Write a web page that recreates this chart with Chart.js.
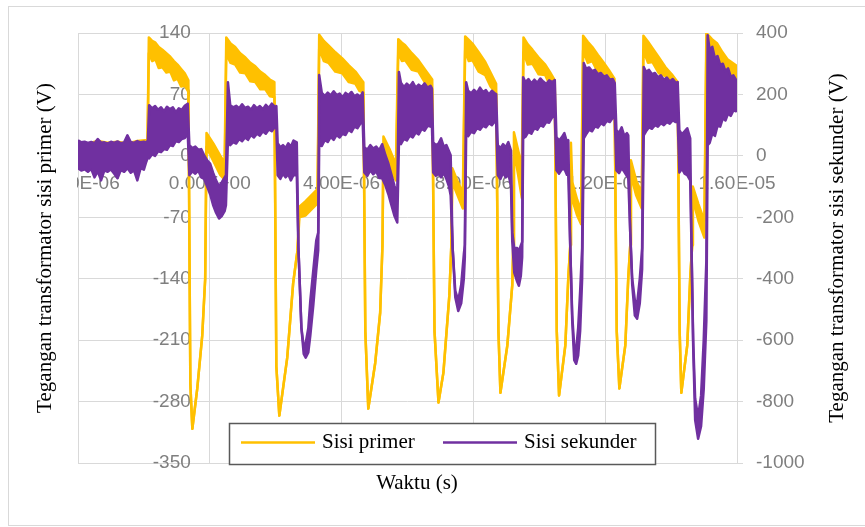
<!DOCTYPE html>
<html>
<head>
<meta charset="utf-8">
<script src="https://cdn.jsdelivr.net/npm/chart.js@4.4.1/dist/chart.umd.min.js"></script>
<style>
  html, body { margin: 0; padding: 0; background: #fff; }
  #wrap { position: relative; width: 865px; height: 527px; }
</style>
</head>
<body>
<div id="wrap"><canvas id="trafoChart" width="865" height="527"></canvas></div>
<script>
// Data
///////////////////////////////////////////////////////////////////////////////////////

// Sisi primer: waktu dalam mikrodetik, batas atas / bawah pita derau (V)
const primerTimeUs = [
    -4.00, -3.70, -3.40, -3.10, -2.80, -2.50, -2.20, -1.89,
    -1.85, -1.75, -1.65, -1.55, -1.44, -1.32, -1.20, -1.09, -0.98, -0.87, -0.76, -0.65,
    -0.59, -0.53, -0.38, -0.23, -0.14, -0.10, 0.11, 0.32, 0.45,
    0.50, 0.63, 0.77, 0.92, 1.08, 1.23, 1.38, 1.53, 1.68, 1.82, 1.96,
    2.02, 2.11, 2.35, 2.53, 2.66, 2.72, 2.90, 3.11, 3.27,
    3.32, 3.46, 3.60, 3.81, 4.02, 4.22, 4.42, 4.54, 4.66,
    4.72, 4.81, 5.02, 5.17, 5.24, 5.27, 5.45, 5.65,
    5.72, 5.83, 5.93, 6.13, 6.33, 6.54, 6.75,
    6.82, 6.94, 7.09, 7.27, 7.33, 7.36, 7.51, 7.68,
    7.75, 7.86, 7.97, 8.16, 8.36, 8.52, 8.69,
    8.76, 8.82, 9.03, 9.18, 9.21, 9.23, 9.36, 9.47,
    9.52, 9.65, 9.79, 9.98, 10.18, 10.33, 10.47,
    10.53, 10.60, 10.79, 10.88, 10.94, 10.96, 11.00, 11.15, 11.27,
    11.33, 11.47, 11.61, 11.78, 11.94, 12.11, 12.28,
    12.35, 12.43, 12.61, 12.70, 12.76, 12.78, 12.94, 13.11,
    13.16, 13.30, 13.43, 13.63, 13.83, 14.02, 14.20,
    14.26, 14.31, 14.49, 14.58, 14.64, 14.66, 14.83, 15.01,
    15.07, 15.24, 15.40, 15.56, 15.71, 15.86, 16.01
];
const primerHigh = [
    16, 14, 17, 15, 16, 14, 17, 18,
    135, 131, 129, 124, 121, 117, 113, 108, 104, 99, 94, 86,
    -260, -311, -265, -205, -140, 26, 14, 0, -8,
    135, 128, 124, 117, 112, 106, 102, 96, 92, 87, 84,
    -240, -296, -230, -145, -108, -58, -52, -44, -38,
    138, 131, 126, 118, 111, 103, 96, 90, 84,
    -200, -288, -236, -179, -102, 22, 8, -10,
    133, 129, 126, 117, 109, 98, 87,
    -200, -281, -247, -159, -102, -14, -28, -42,
    136, 132, 128, 118, 107, 95, 82,
    -200, -270, -216, -147, -102, 27, 6, -12,
    135, 127, 121, 112, 104, 95, 86,
    -200, -273, -216, -139, -102, 15, -30, -50, -62,
    137, 130, 124, 115, 107, 98, 88,
    -200, -265, -216, -139, -102, -5, -28, -42,
    137, 130, 123, 112, 101, 93, 84,
    -200, -270, -216, -139, -102, -35, -55, -74,
    140, 133, 128, 118, 110, 106, 102
];
const primerLow = [
    8, 7, 9, 8, 9, 7, 10, 11,
    117, 108, 110, 100, 101, 95, 96, 86, 88, 79, 80, 73,
    -260, -311, -265, -205, -140, 10, -6, -22, -27,
    116, 106, 104, 95, 94, 85, 84, 76, 76, 68, 67,
    -240, -296, -230, -145, -108, -70, -68, -60, -54,
    122, 108, 106, 96, 94, 84, 82, 74, 72,
    -200, -288, -236, -179, -102, 4, -14, -28,
    118, 108, 109, 98, 96, 83, 76,
    -200, -281, -247, -159, -102, -30, -44, -60,
    120, 108, 109, 96, 92, 79, 71,
    -200, -270, -216, -147, -102, 6, -22, -48,
    118, 104, 105, 93, 92, 80, 74,
    -200, -273, -216, -139, -102, -10, -50, -68, -78,
    120, 106, 108, 95, 96, 84, 76,
    -200, -265, -216, -139, -102, -22, -45, -60,
    120, 106, 107, 94, 91, 80, 73,
    -200, -270, -216, -139, -102, -50, -74, -93,
    122, 110, 108, 97, 97, 88, 86
];

// Sisi sekunder: waktu dalam mikrodetik, batas atas / bawah pita derau (V)
const sekunderTimeUs = [
    -4.00, -3.90, -3.80, -3.70, -3.60, -3.50, -3.40, -3.30, -3.20, -3.10, -3.00, -2.90,
    -2.80, -2.70, -2.60, -2.50, -2.40, -2.30, -2.20, -2.10, -2.00, -1.93, -1.88,
    -1.84, -1.75, -1.66, -1.57, -1.48, -1.39, -1.30, -1.21, -1.12, -1.03, -0.94, -0.85, -0.76, -0.67,
    -0.62, -0.53, -0.44, -0.35, -0.26, -0.17, -0.08, 0.01, 0.10, 0.19, 0.28, 0.37, 0.45, 0.49,
    0.55, 0.62, 0.71, 0.80, 0.89, 0.98, 1.07, 1.16, 1.25, 1.34, 1.43, 1.52, 1.61, 1.70, 1.79, 1.88, 1.97, 2.02,
    2.06, 2.14, 2.22, 2.30, 2.38, 2.46, 2.54, 2.64,
    2.69, 2.78, 2.85, 2.91, 2.99, 3.05, 3.14, 3.23, 3.29,
    3.32, 3.40, 3.49, 3.58, 3.67, 3.76, 3.85, 3.94, 4.03, 4.12, 4.21, 4.30, 4.39, 4.48, 4.57, 4.64,
    4.69, 4.78, 4.87, 4.96, 5.05, 5.14, 5.23, 5.33, 5.42, 5.51, 5.60, 5.69,
    5.74, 5.80, 5.89, 5.98, 6.07, 6.16, 6.25, 6.34, 6.43, 6.52, 6.61, 6.70, 6.74,
    6.78, 6.86, 6.94, 7.02, 7.10, 7.18, 7.26, 7.31,
    7.37, 7.45, 7.54, 7.63, 7.71, 7.74,
    7.78, 7.84, 7.93, 8.02, 8.11, 8.20, 8.29, 8.38, 8.47, 8.56, 8.65, 8.69,
    8.74, 8.82, 8.90, 8.98, 9.06, 9.14,
    9.18, 9.24, 9.33, 9.38, 9.44, 9.48,
    9.51, 9.58, 9.67, 9.76, 9.85, 9.94, 10.03, 10.12, 10.21, 10.30, 10.39, 10.47,
    10.52, 10.60, 10.68, 10.76, 10.84, 10.88,
    10.94, 11.00, 11.06, 11.12, 11.18, 11.24, 11.30,
    11.35, 11.42, 11.51, 11.60, 11.69, 11.78, 11.87, 11.96, 12.05, 12.14, 12.23, 12.29,
    12.34, 12.42, 12.50, 12.58, 12.66, 12.70,
    12.76, 12.82, 12.90, 12.97, 13.05, 13.12,
    13.17, 13.24, 13.33, 13.42, 13.51, 13.60, 13.69, 13.78, 13.87, 13.96, 14.05, 14.14, 14.20,
    14.25, 14.33, 14.41, 14.49, 14.58,
    14.62, 14.67, 14.73, 14.82, 14.91, 14.99, 15.07,
    15.11, 15.17, 15.25, 15.33, 15.41, 15.49, 15.57, 15.65, 15.73, 15.81, 15.89, 15.97, 16.01
];
const sekunderHigh = [
    51, 44, 46, 42, 45, 41, 55, 43, 44, 40, 46, 42,
    47, 41, 44, 67, 45, 42, 48, 44, 46, 44, 50,
    165, 155, 162, 150, 158, 145, 160, 152, 158, 142, 155, 150, 163, 170,
    35, 25, 30, 20, 22, 2, -15, -25, -55, -80, -99, -85, -70, -63,
    240, 165, 158, 163, 155, 168, 156, 160, 150, 165, 155, 162, 152, 166, 156, 170, 160, 162,
    41, 28, 35, 25, 41, 30, 50, 44,
    -300, -560, -620, -610, -560, -472, -374, -276, -250,
    263, 205, 195, 206, 197, 210, 198, 203, 190, 205, 198, 208, 194, 200, 192, 207,
    28, 20, 35, 24, 30, 18, 38, 2, -25, -60, -96, -129,
    273, 238, 224, 235, 226, 240, 222, 232, 224, 236, 222, 228, 220,
    44, 35, 40, 57, 30, 35, 15, 2,
    -300, -440, -470, -420, -320, -290,
    240, 212, 204, 215, 205, 222, 208, 214, 200, 212, 203, 201,
    35, 25, 38, 28, 45, 18,
    -250, -300, -300, -310, -292, -280,
    256, 240, 250, 236, 248, 238, 252, 242, 234, 246, 240, 247,
    61, 50, 60, 74, 45, 51,
    -300, -520, -620, -630, -560, -440, -300,
    302, 284, 288, 276, 280, 266, 270, 258, 262, 248, 250, 237,
    84, 74, 93, 65, 74, 67,
    -250, -400, -470, -480, -400, -300,
    289, 274, 280, 266, 270, 256, 262, 248, 255, 242, 250, 238, 240,
    84, 70, 80, 90, 57,
    -300, -600, -790, -850, -780, -600, -341,
    393, 345, 355, 318, 325, 296, 300, 276, 285, 258, 262, 248, 247
];
const sekunderLow = [
    -40, -48, -44, -52, -42, -70, -50, -80, -47, -52, -44, -58,
    -73, -46, -52, -40, -55, -47, -80, -40, -45, -20, -5,
    -8, 5, 0, 15, 12, 22, 20, 35, 32, 48, 45, 55, 58, 74,
    -63, -50, -58, -48, -70, -75, -100, -125, -160, -185, -204, -195, -180, -161,
    51, 35, 45, 40, 55, 48, 60, 52, 68, 60, 72, 66, 80, 72, 86, 80, 93, 90,
    -63, -75, -58, -70, -60, -80, -62, -63,
    -300, -560, -645, -657, -640, -585, -488, -374, -308,
    35, 32, 52, 45, 62, 52, 68, 60, 72, 68, 85, 78, 95, 90, 105, 110,
    -54, -65, -47, -60, -50, -72, -73, -96, -125, -160, -194, -217,
    41, 38, 55, 50, 66, 60, 76, 70, 88, 82, 98, 95, 103,
    -54, -65, -58, -70, -55, -75, -100, -129,
    -300, -460, -505, -480, -400, -330,
    67, 64, 78, 74, 90, 85, 98, 93, 106, 100, 112, 110,
    -63, -75, -55, -70, -60, -96,
    -280, -380, -410, -423, -390, -330,
    57, 62, 78, 72, 90, 85, 100, 95, 110, 108, 125, 132,
    -47, -58, -45, -42, -62, -63,
    -300, -540, -665, -677, -650, -570, -400,
    57, 70, 85, 80, 96, 92, 106, 100, 114, 110, 124, 123,
    -47, -56, -40, -52, -66, -73,
    -250, -420, -520, -530, -480, -370,
    67, 80, 93, 88, 100, 95, 106, 100, 110, 105, 116, 110, 116,
    -54, -42, -58, -63, -80,
    -300, -620, -860, -921, -880, -760, -537,
    35, 42, 72, 65, 98, 95, 122, 115, 138, 130, 148, 145, 155
];

// Axis ticks
const timeTicks = [-4e-6, 0, 4e-6, 8e-6, 1.2e-5, 1.6e-5];
const timeTickLabels = ['-4.00E-06', '0.00E+00', '4.00E-06', '8.00E-06', '1.20E-05', '1.60E-05'];
const primerTicks = [-350, -280, -210, -140, -70, 0, 70, 140];
const sekunderTicks = [-1000, -800, -600, -400, -200, 0, 200, 400];

const seriesNames = ['Sisi primer', 'Sisi sekunder'];
const seriesColours = ['#FFC000', '#7030A0'];

const titleY1 = 'Tegangan transformator sisi primer (V)';
const titleY2 = 'Tegangan transformator sisi sekunder (V)';
const titleX = 'Waktu (s)';

// Helpers
///////////////////////////////////////////////////////////////////////////////////////
const GRID = '#d9d9d9';
const TICK_TEXT = '#7f7f7f';
const SERIF = '"Liberation Serif", "Times New Roman", serif';
const SANS = '"Liberation Sans", Arial, sans-serif';
const tickFont = { family: SANS, size: 19 };

function toPoints(timeUs, values) {
    return timeUs.map((t, i) => ({ x: t * 1e-6, y: values[i] }));
}

function setTicks(values) {
    return scale => { scale.ticks = values.map(v => ({ value: v })); };
}

// primary axis sits on t = 0, its numbers go just left of that line,
// underneath the traces
const primerAxisLabels = {
    id: 'primerAxisLabels',
    beforeDatasetsDraw(chart) {
        const { ctx, scales } = chart;
        const axisX = scales.x.getPixelForValue(0);
        ctx.save();
        ctx.font = tickFont.size + 'px ' + SANS;
        ctx.fillStyle = TICK_TEXT;
        ctx.textAlign = 'right';
        ctx.textBaseline = 'middle';
        primerTicks.forEach(v => {
            ctx.fillText(String(v), axisX - 19, scales.y.getPixelForValue(v));
        });
        ctx.restore();
    }
};

// frame, axis titles and the boxed legend inside the plot
const chartDecor = {
    id: 'chartDecor',
    beforeDraw(chart) {
        const ctx = chart.ctx;
        ctx.save();
        ctx.fillStyle = '#fff';
        ctx.fillRect(0, 0, chart.width, chart.height);
        ctx.strokeStyle = GRID;
        ctx.lineWidth = 1;
        ctx.strokeRect(8.5, 6.5, chart.width + 20, 519);
        ctx.restore();
    },
    afterDraw(chart) {
        const { ctx, chartArea: area } = chart;
        const midY = (area.top + area.bottom) / 2;
        ctx.save();

        // first time label hangs over the left edge; cut it at the plot border
        ctx.fillStyle = '#fff';
        ctx.fillRect(9, area.top, area.left - 10, area.bottom - area.top);

        ctx.fillStyle = '#000';
        ctx.font = '21px ' + SERIF;
        ctx.textAlign = 'center';
        ctx.textBaseline = 'middle';
        [[titleY1, area.left - 33], [titleY2, area.right + 100]].forEach(([text, x]) => {
            ctx.save();
            ctx.translate(x, midY);
            ctx.rotate(-Math.PI / 2);
            ctx.fillText(text, 0, 0);
            ctx.restore();
        });
        ctx.fillText(titleX, 417, area.bottom + 20);

        // legend box
        const box = { x: 229.5, y: 423.5, w: 426, h: 41 };
        ctx.fillStyle = '#fff';
        ctx.fillRect(box.x, box.y, box.w, box.h);
        ctx.strokeStyle = '#595959';
        ctx.lineWidth = 1.5;
        ctx.strokeRect(box.x, box.y, box.w, box.h);

        const startX = [241, 443];
        const rowY = box.y + 19;
        ctx.textAlign = 'left';
        seriesNames.forEach((name, i) => {
            ctx.strokeStyle = seriesColours[i];
            ctx.lineWidth = 2.5;
            ctx.beginPath();
            ctx.moveTo(startX[i], rowY);
            ctx.lineTo(startX[i] + 74, rowY);
            ctx.stroke();
            ctx.fillStyle = '#000';
            ctx.fillText(name, startX[i] + 81, rowY);
        });
        ctx.restore();
    }
};

// Chart
///////////////////////////////////////////////////////////////////////////////////////

// each trace is a noise band: upper edge filled down to the lower edge
function band(name, colour, timeUs, high, low, axis, order) {
    return [{
        label: name,
        data: toPoints(timeUs, high),
        yAxisID: axis,
        order: order,
        borderColor: colour,
        backgroundColor: colour,
        fill: '+1'
    }, {
        data: toPoints(timeUs, low),
        yAxisID: axis,
        order: order,
        borderColor: colour,
        backgroundColor: colour,
        fill: false
    }];
}

const datasets = [
    ...band(seriesNames[0], seriesColours[0], primerTimeUs, primerHigh, primerLow, 'y', 1),
    ...band(seriesNames[1], seriesColours[1], sekunderTimeUs, sekunderHigh, sekunderLow, 'y2', 0)
];

const config = {
    type: 'line',
    data: { datasets: datasets },
    options: {
        responsive: false,
        animation: false,
        events: [],
        layout: { padding: { left: 78, top: 33, right: 0, bottom: 64 } },
        elements: {
            point: { radius: 0 },
            line: { tension: 0, borderWidth: 2.5, borderJoinStyle: 'round' }
        },
        plugins: {
            legend: { display: false },
            tooltip: { enabled: false }
        },
        scales: {
            x: {
                type: 'linear',
                position: { y: 0 },
                min: timeTicks[0],
                max: timeTicks[timeTicks.length - 1],
                afterBuildTicks: setTicks(timeTicks),
                ticks: {
                    callback: (v, i) => timeTickLabels[i],
                    font: tickFont,
                    color: TICK_TEXT,
                    padding: 17,
                    maxRotation: 0,
                    autoSkip: false
                },
                grid: { color: GRID, drawTicks: false },
                border: { display: false }
            },
            y: {
                position: { x: 0 },
                min: primerTicks[0],
                max: primerTicks[primerTicks.length - 1],
                afterBuildTicks: setTicks(primerTicks),
                ticks: { display: false },
                grid: { color: GRID, drawTicks: false },
                border: { display: false }
            },
            y2: {
                position: 'right',
                min: sekunderTicks[0],
                max: sekunderTicks[sekunderTicks.length - 1],
                afterBuildTicks: setTicks(sekunderTicks),
                afterFit: scale => { scale.width = 128; },
                ticks: {
                    callback: v => String(v),
                    font: tickFont,
                    color: TICK_TEXT,
                    padding: 13
                },
                grid: { drawOnChartArea: false, color: GRID, tickLength: 6 },
                border: { color: GRID }
            }
        }
    },
    plugins: [primerAxisLabels, chartDecor]
};

const trafoChart = new Chart(document.getElementById('trafoChart'), config);
</script>
</body>
</html>
